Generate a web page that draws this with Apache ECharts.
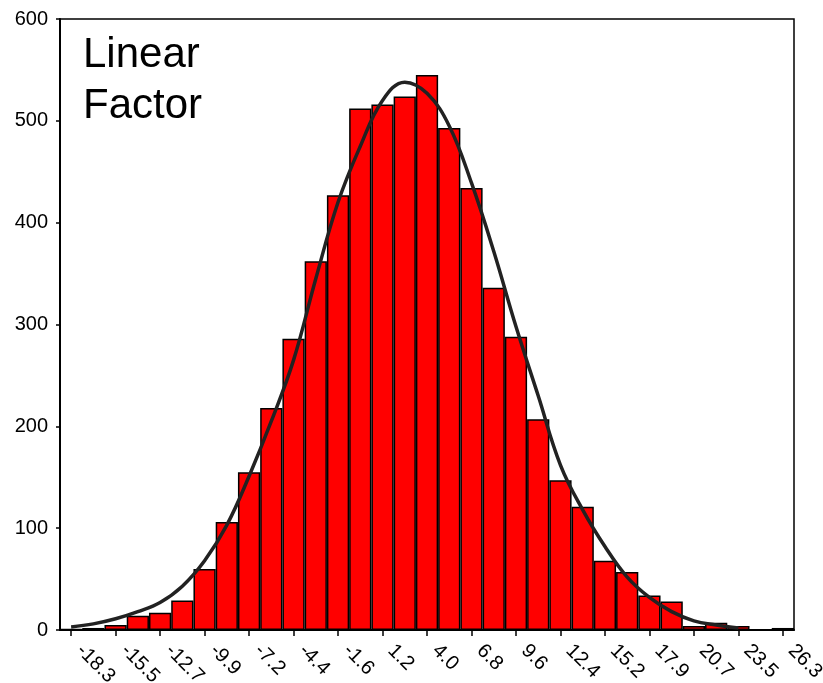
<!DOCTYPE html>
<html>
<head>
<meta charset="utf-8">
<script src="https://cdn.jsdelivr.net/npm/echarts@6/dist/echarts.min.js"></script>
<style>
html,body{margin:0;padding:0;background:#fff;}
#chart{width:823px;height:683px;}
</style>
</head>
<body>
<div id="chart"></div>
<script>
// Bin centres (category labels)
var categories = ['-18.3','-16.9','-15.5','-14.1','-12.7','-11.3','-9.9','-8.5','-7.2','-5.8','-4.4','-3.0','-1.6','-0.2','1.2','2.6','4.0','5.4','6.8','8.2','9.6','11.0','12.4','13.8','15.2','16.5','17.9','19.3','20.7','22.1','23.5','24.9','26.3'];
// Histogram counts
var counts = [1,2,5,14,17,29,60,106,155,218,286,362,427,512,516,524,545,493,434,336,288,207,147,121,68,57,34,28,4,7,4,0,2];
// Fitted normal curve read at bin centres
var curve = [3,6,11,18,27,43,68,103,151,205,265,345,420,475,520,538,527,495,439,372,298,230,162,118,82,52,32,18,9,5,2,null,null];
var yTicks = {min:0, max:600, interval:100};
var titleLines = ['Linear','Factor'];

var chart = echarts.init(document.getElementById('chart'), null, {renderer:'canvas'});
var font = 'Liberation Sans, Arial, sans-serif';
chart.setOption({
  backgroundColor:'#ffffff',
  animation:false,
  grid:{left:60, right:29, top:19, bottom:53, containLabel:false, outerBoundsMode:'none',
        show:true, borderColor:'#000', borderWidth:1.5, backgroundColor:'transparent'},
  graphic:[{
    type:'text', left:83, top:30, z:100,
    style:{text:titleLines.join('\n'), font:'42px ' + font, fill:'#000', lineHeight:51}
  }],
  xAxis:{
    type:'category', data:categories, boundaryGap:true,
    axisLine:{lineStyle:{color:'#000', width:2}},
    axisTick:{show:true, interval:1, alignWithLabel:true, length:6, lineStyle:{color:'#000', width:1.5}},
    axisLabel:{interval:1, rotate:-45, margin:9, padding:[0,0,0,12], color:'#000', fontSize:20, fontFamily:font, hideOverlap:false},
    splitLine:{show:false}
  },
  yAxis:{
    type:'value', min:yTicks.min, max:yTicks.max, interval:yTicks.interval,
    axisLine:{show:true, lineStyle:{color:'#000', width:2}},
    axisTick:{show:true, length:4, lineStyle:{color:'#000', width:1.5}},
    axisLabel:{margin:12, color:'#000', fontSize:20, fontFamily:font},
    splitLine:{show:false}
  },
  series:[{
    type:'bar', data:counts, barCategoryGap:'0%', barGap:'0%',
    itemStyle:{color:'#ff0000', borderColor:'#000', borderWidth:1.5},
    z:2
  },{
    type:'line', data:curve, smooth:0.4, showSymbol:false, symbol:'none',
    connectNulls:false,
    lineStyle:{color:'#222', width:3.5},
    z:5
  }]
});
</script>
</body>
</html>
